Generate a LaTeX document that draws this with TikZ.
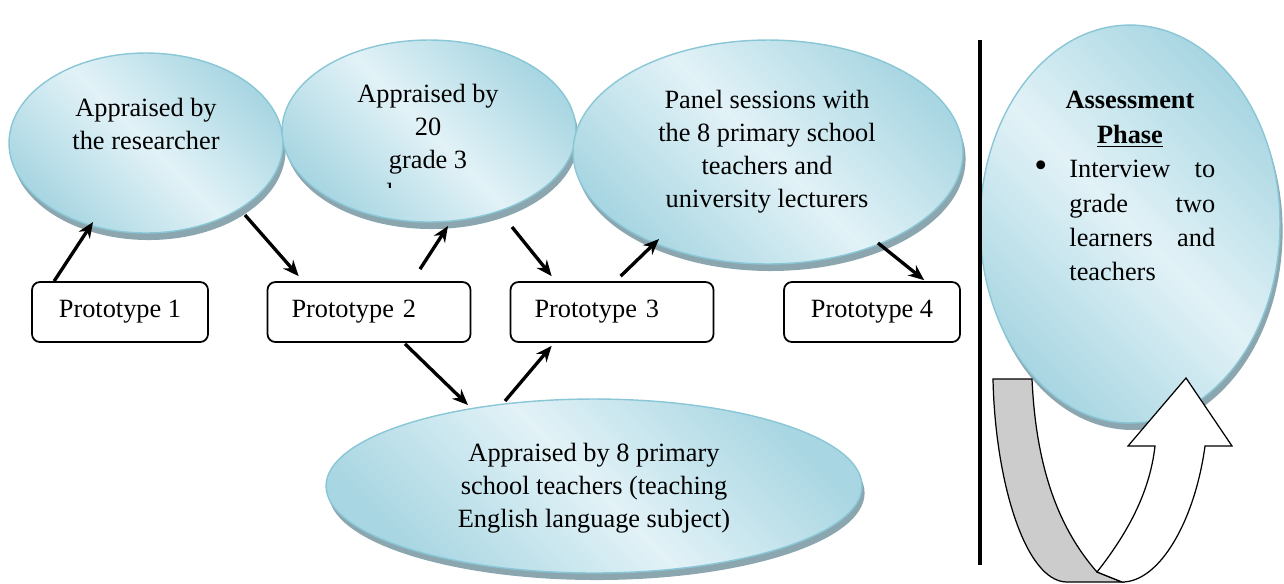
\documentclass[tikz,border=0pt]{standalone}
\usepackage{fontspec}
\setmainfont{Liberation Serif}
\usepackage{xcolor}
\definecolor{bubbledark}{RGB}{168,214,226}
\definecolor{bubblelight}{RGB}{226,242,247}
\definecolor{bubbleedge}{RGB}{137,198,214}
\definecolor{bubbleshadow}{RGB}{140,166,175}
\definecolor{loopgray}{RGB}{204,204,204}
\usepackage{tikz}
\usetikzlibrary{shapes,arrows.meta,positioning,shadows,calc}

\begin{document}
\begin{tikzpicture}[
    x=0.02cm, y=-0.02cm,
    font=\fontsize{15}{18.8}\selectfont,
    bubble/.style={draw=bubbleedge, line width=0.8pt, ellipse, inner sep=0pt, top color=bubbledark, bottom color=bubbledark, middle color=bubblelight, shading angle=-45, drop shadow={shadow xshift=1.5pt, shadow yshift=-4pt, fill=bubbleshadow, opacity=1}},
    bubbletext/.style={align=center, inner sep=0pt},
    proto/.style={draw, line width=1pt, rectangle, rounded corners=4.5pt, minimum height=1.2cm, fill=white, align=center},
    flow/.style={-{Stealth[length=9pt, width=7.5pt]}, line width=1.9pt}
]
\useasboundingbox (0,0) rectangle (1284,583);

% Appraisal bubbles
\node[bubble, minimum width=5.48cm, minimum height=3.6cm] (e1) at (146,143) {};
\node[bubbletext] (e1txt) at (146,124) {Appraised by\\the researcher};

\node[bubble, minimum width=5.88cm, minimum height=3.64cm] (e2) at (429,131) {};
\begin{scope}
  \clip (280,30) rectangle (580,187);
  \node[bubbletext] (e2txt) at (428,143) {Appraised by\\20\\grade 3\\learners};
\end{scope}

\node[bubble, minimum width=7.8cm, minimum height=4.48cm] (e3) at (768,152) {};
\node[bubbletext] (e3txt) at (767,152) {Panel sessions with\\the 8 primary school\\teachers and\\university lecturers};

\node[bubble, minimum width=10.72cm, minimum height=3.48cm] (e4) at (594,486) {};
\node[bubbletext] (e4txt) at (594,488) {Appraised by 8 primary\\school teachers (teaching\\English language subject)};

% Assessment phase
\node[bubble, minimum width=6.0cm, minimum height=7.96cm] (e5) at (1130,224) {};
\node[bubbletext, text width=3.66cm, align=justify, anchor=north, font=\fontsize{15}{19.6}\selectfont] (e5txt) at (1124,91)
  {{\centering\leftskip=6.8pt plus 1fil\textbf{Assessment}\par\textbf{\underline{Phase}}\par}
   \noindent\makebox[21pt][l]{\hspace{1pt}\fontsize{21}{19.6}\selectfont\textbullet}\parbox[t]{83pt}{Interview\hfill to\\grade\hfill two\\learners\hfill and\\teachers}\par};

% Prototypes
\node[proto, minimum width=3.52cm] (p1) at (120,312) {Prototype 1};
\node[proto, text width=3.1cm, inner xsep=0.48cm, align=left] (p2) at (369,312) {Prototype 2};
\node[proto, text width=3.1cm, inner xsep=0.48cm, align=left] (p3) at (612,312) {Prototype 3};
\node[proto, minimum width=3.52cm] (p4) at (872,312) {Prototype 4};

% Arrows
\draw[flow] ($(p1.north west)+(23,0)$) -- ($(e1.center)+(-53,79)$);
\draw[flow] ($(e1.center)+(99,72)$) -- ($(p2.north west)+(32,-5)$);
\draw[flow] ($(p2.north)+(51,-12)$) -- ($(e2.center)+(19,95)$);
\draw[flow] ($(e2.center)+(83,96)$) -- ($(p3.north west)+(42,-5)$);
\draw[flow] ($(p3.north west)+(111,-5)$) -- ($(e3.center)+(-109,87)$);
\draw[flow] ($(e3.center)+(110,91)$) -- ($(p4.north west)+(141,-1)$);
\draw[flow] ($(p2.south)+(36,1)$) -- ($(e4.center)+(-126,-81)$);
\draw[flow] ($(e4.center)+(-89,-85)$) -- ($(p3.south west)+(42,3)$);

% Separator and turning arrow
\draw[line width=2.8pt] (980,40) -- (980,565);
\draw[fill=loopgray, line width=0.7pt] (993,379) -- (1032,379) .. controls (1036,470) and (1060,530) .. (1097,572) -- (1122,582) -- (1067,582) .. controls (1025,582) and (995,480) .. cycle;
\draw[fill=white, line width=0.7pt] (1097,572) .. controls (1130,530) and (1150,490) .. (1155,446) -- (1128,446) -- (1186,378) -- (1232,446) -- (1205,446) .. controls (1195,520) and (1160,582) .. (1122,582) -- cycle;

\end{tikzpicture}
\end{document}
